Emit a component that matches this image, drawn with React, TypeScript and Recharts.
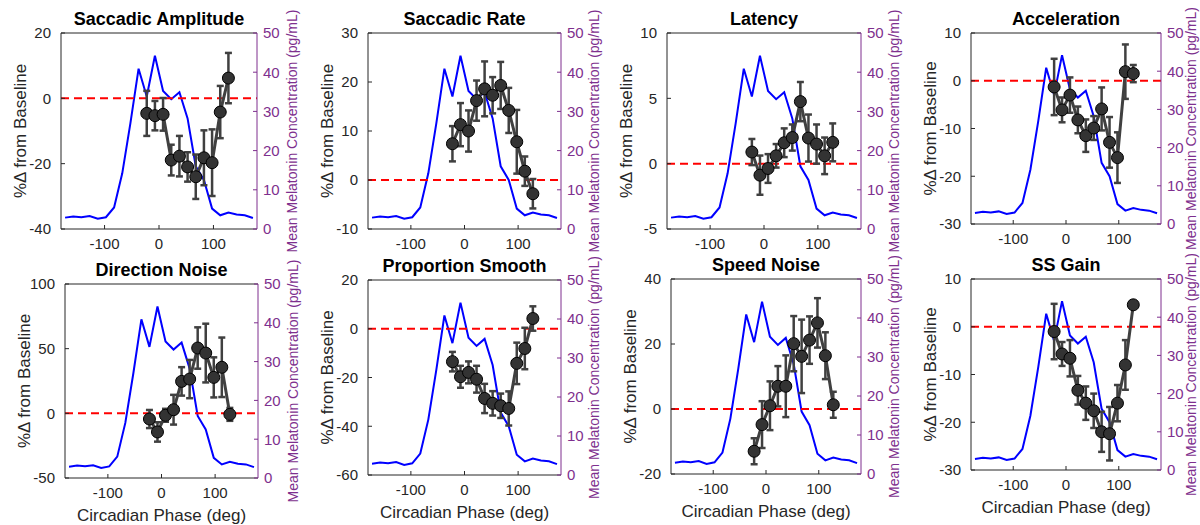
/* Circadian phase vs % change from baseline, with melatonin overlay. */

import { ComposedChart, ErrorBar, Line, ReferenceLine, XAxis, YAxis } from "recharts";

const melatoninPhase = [
  -172.5, -157.5, -142.5, -127.5, -112.5, -97.5, -82.5, -67.5, -52.5, -37.5, -22.5, -7.5,
  7.5, 22.5, 37.5, 52.5, 67.5, 82.5, 97.5, 112.5, 127.5, 142.5, 157.5, 172.5,
];
const melatonin = [
  2.9, 3.2, 3.0, 3.3, 2.6, 3.0, 5.5, 14.2, 27.0, 40.9, 33.8, 44.2,
  35.2, 33.1, 34.9, 28.2, 16.0, 12.5, 5.2, 3.5, 4.2, 3.7, 3.5, 2.8,
];

const metricPhase = [-22.5, -7.5, 7.5, 22.5, 37.5, 52.5, 67.5, 82.5, 97.5, 112.5, 127.5];

const amplitudeMean = [-4.6, -5.3, -4.9, -18.9, -17.7, -21.0, -24.0, -18.2, -19.7, -4.2, 6.2];
const amplitudeErr = [6.9, 4.5, 5.0, 4.7, 6.2, 4.5, 6.8, 8.4, 10.2, 8.0, 7.7];
const rateMean = [7.4, 11.3, 10.0, 16.2, 18.6, 17.3, 19.3, 14.2, 7.8, 1.8, -2.8];
const rateErr = [3.6, 4.4, 4.2, 4.1, 5.6, 3.7, 4.8, 4.6, 6.5, 3.0, 3.0];
const latencyMean = [0.89, -0.88, -0.37, 0.6, 1.6, 2.0, 4.75, 1.96, 1.5, 0.6, 1.63];
const latencyErr = [1.0, 1.5, 1.1, 0.9, 1.1, 1.0, 1.5, 1.8, 1.5, 1.4, 1.45];
const accelMean = [-1.3, -6.1, -3.0, -8.2, -11.5, -9.9, -5.9, -12.9, -16.1, 1.9, 1.5];
const accelErr = [5.9, 2.6, 3.7, 2.8, 3.4, 2.5, 4.5, 5.3, 5.3, 5.7, 1.8];
const dirNoiseMean = [-4.4, -14.4, -1.5, 2.8, 24.7, 26.5, 50.5, 46.6, 27.8, 35.6, -0.8];
const dirNoiseErr = [7, 7.5, 5, 11.5, 11, 14.8, 16, 22.7, 15.5, 23, 5];
const smoothMean = [-13.5, -19.7, -17.9, -20.7, -28.6, -30.6, -31.6, -32.7, -14.2, -8.1, 4.2];
const smoothErr = [4, 4.5, 4.5, 5.5, 6, 5, 5, 7, 8.5, 8.5, 5];
const speedNoiseMean = [-13, -4.8, 1.0, 7.0, 7.0, 20.1, 16.2, 21.2, 26.5, 16.4, 1.3];
const speedNoiseErr = [4, 7.2, 7.5, 6.2, 9.5, 8.5, 11.3, 7.3, 7.6, 7.2, 4];
const gainMean = [-1.0, -5.7, -6.6, -13.3, -16.0, -17.6, -22.0, -22.4, -16.0, -8.0, 4.6];
const gainErr = [5.8, 2.5, 3.8, 3.0, 3.5, 3.6, 4.2, 5.6, 3.8, 5.2, 0.3];

const phaseTicks = [-100, 0, 100];
const melatoninTicks = [0, 10, 20, 30, 40, 50];

const FONT = '"Liberation Sans", Arial, Helvetica, sans-serif';
const AXIS = "#262626";
const PURPLE = "#7E2F8E";

// box = [plot left, plot right, plot top, plot bottom] in page pixels
const panels = [
  { title: "Saccadic Amplitude", mean: amplitudeMean, err: amplitudeErr, ticks: [-40, -20, 0, 20], box: [61, 257, 33, 229], xLabel: false, rGap: 35 },
  { title: "Saccadic Rate", mean: rateMean, err: rateErr, ticks: [-10, 0, 10, 20, 30], box: [368, 561, 33, 229], xLabel: false, rGap: 33 },
  { title: "Latency", mean: latencyMean, err: latencyErr, ticks: [-5, 0, 5, 10], box: [667, 861, 33, 229], xLabel: false, rGap: 33 },
  { title: "Acceleration", mean: accelMean, err: accelErr, ticks: [-30, -20, -10, 0, 10], box: [971, 1161, 33, 224], xLabel: false, rGap: 30 },
  { title: "Direction Noise", mean: dirNoiseMean, err: dirNoiseErr, ticks: [-50, 0, 50, 100], box: [65, 258, 284, 478], xLabel: true, rGap: 35 },
  { title: "Proportion Smooth", mean: smoothMean, err: smoothErr, ticks: [-60, -40, -20, 0, 20], box: [368, 561, 280, 475], xLabel: true, rGap: 33 },
  { title: "Speed Noise", mean: speedNoiseMean, err: speedNoiseErr, ticks: [-20, 0, 20, 40], box: [671, 861, 279, 474], xLabel: true, rGap: 33 },
  { title: "SS Gain", mean: gainMean, err: gainErr, ticks: [-30, -20, -10, 0, 10], box: [971, 1161, 279, 470], xLabel: true, rGap: 30 },
];

const melatoninData = melatoninPhase.map((x, i) => ({ x, y: melatonin[i] }));

function Panel({ p }: { p: (typeof panels)[number] }) {
  const [left, right, top, bottom] = p.box;
  const plotW = right - left;
  const plotH = bottom - top;
  const data = metricPhase.map((x, i) => ({ x, v: p.mean[i], err: p.err[i] }));
  const yMin = p.ticks[0];
  const yMax = p.ticks[p.ticks.length - 1];

  return (
    <>
      <div
        style={{
          position: "absolute",
          left: left - 100,
          width: plotW + 200,
          top: top - 25,
          textAlign: "center",
          fontWeight: "bold",
          fontSize: 18,
          lineHeight: "22px",
          color: "#000",
        }}
      >
        {p.title}
      </div>
      <div style={{ position: "absolute", left: left - 60, top: top - 30 }}>
        <ComposedChart width={plotW + 120} height={plotH + 78} margin={{ top: 30, right: 10, left: 10, bottom: 0 }}>
          <XAxis
            type="number"
            dataKey="x"
            domain={[-180, 180]}
            ticks={phaseTicks}
            interval={0}
            allowDataOverflow
            height={48}
            stroke={AXIS}
            tickSize={-4}
            tickMargin={13}
            tick={{ fill: AXIS, fontSize: 15 }}
            label={
              p.xLabel
                ? { value: "Circadian Phase (deg)", position: "insideBottom", offset: 5, style: { fill: AXIS, fontSize: 17 } }
                : undefined
            }
          />
          <YAxis
            yAxisId="left"
            type="number"
            domain={[yMin, yMax]}
            ticks={p.ticks}
            interval={0}
            allowDataOverflow
            width={50}
            stroke={AXIS}
            tickSize={-4}
            tickMargin={14}
            tick={{ fill: AXIS, fontSize: 15 }}
            label={{
              value: "%\u0394 from Baseline",
              angle: -90,
              position: "insideLeft",
              offset: 9,
              style: { textAnchor: "middle", fill: AXIS, fontSize: 17 },
            }}
          />
          <YAxis
            yAxisId="right"
            orientation="right"
            type="number"
            domain={[0, 50]}
            ticks={melatoninTicks}
            interval={0}
            allowDataOverflow
            width={50}
            stroke={PURPLE}
            tickSize={-4}
            tickMargin={10}
            tick={{ fill: PURPLE, fontSize: 15 }}
            label={{
              value: "Mean Melatonin Concentration (pg/mL)",
              angle: -90,
              position: "insideRight",
              offset: 50 - p.rGap,
              style: { textAnchor: "middle", fill: PURPLE, fontSize: 14 },
            }}
          />
          <ReferenceLine yAxisId="left" y={yMax} stroke={AXIS} strokeWidth={1} />
          <Line
            yAxisId="right"
            data={melatoninData}
            dataKey="y"
            stroke="#0000FF"
            strokeWidth={2}
            dot={false}
            isAnimationActive={false}
          />
          <ReferenceLine yAxisId="left" y={0} stroke="#FF0000" strokeWidth={2} strokeDasharray="8 5" />
          <Line
            yAxisId="left"
            data={data}
            dataKey="v"
            stroke="#404040"
            strokeWidth={3}
            dot={{ r: 6, fill: "#333333", stroke: "#000", strokeWidth: 1 }}
            isAnimationActive={false}
          >
            <ErrorBar dataKey="err" direction="y" width={3.5} stroke="#404040" strokeWidth={2.5} />
          </Line>
        </ComposedChart>
      </div>
    </>
  );
}

export default function App() {
  return (
    <div
      style={{
        position: "absolute",
        left: 0,
        top: 0,
        width: 1200,
        height: 525,
        overflow: "hidden",
        background: "#fff",
        fontFamily: FONT,
      }}
    >
      {panels.map((p) => (
        <Panel key={p.title} p={p} />
      ))}
    </div>
  );
}
